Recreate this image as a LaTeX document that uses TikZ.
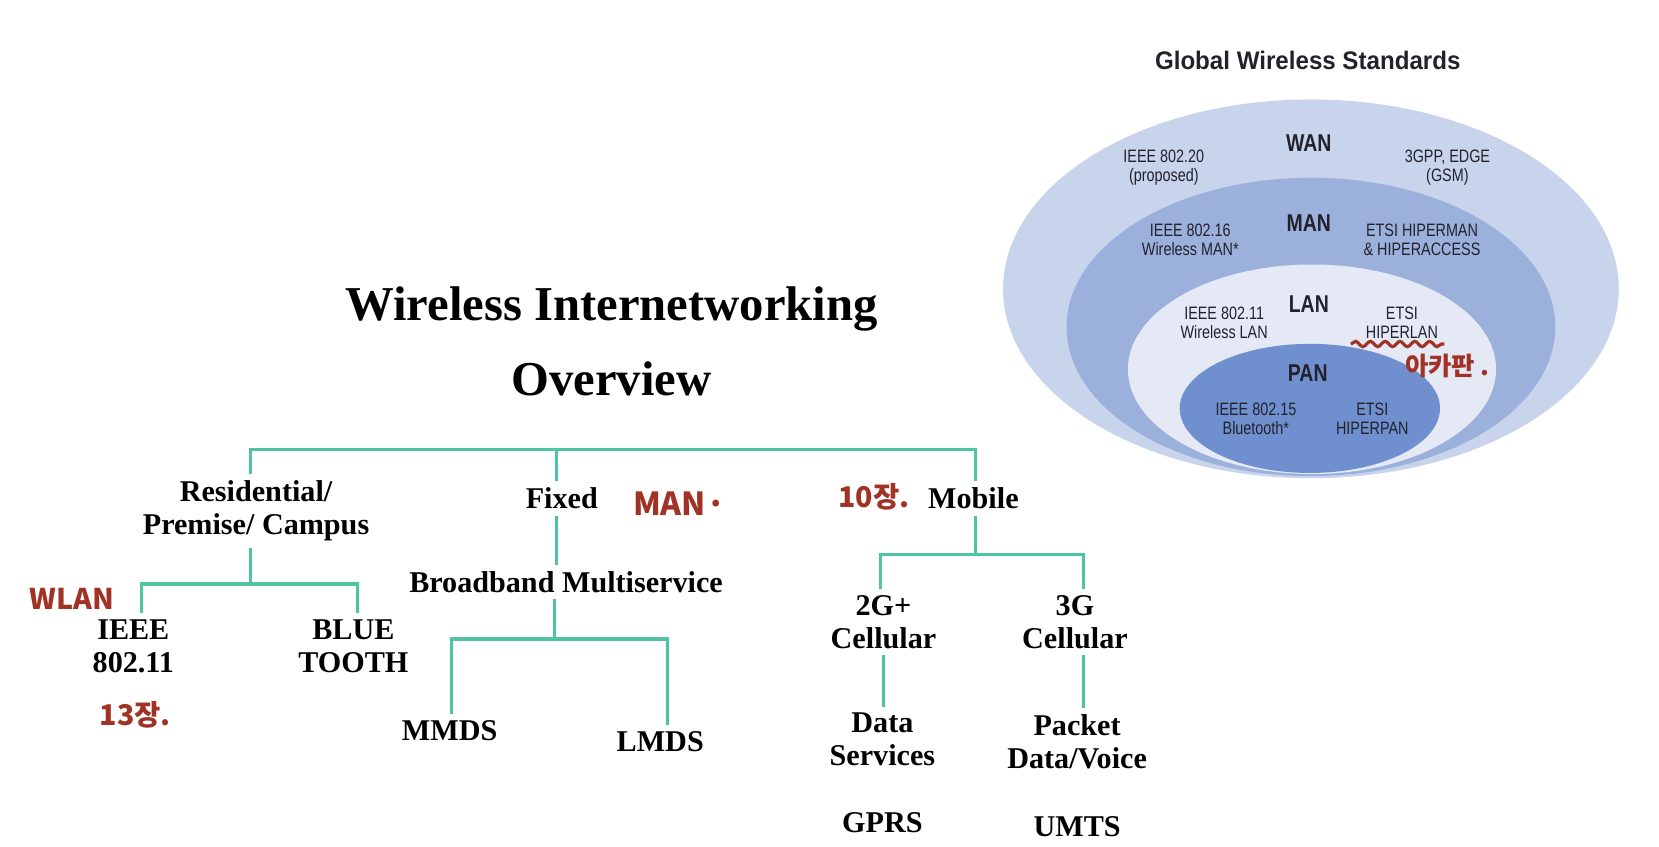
\documentclass[tikz,border=0pt]{standalone}
\usepackage{fontspec}
\setmainfont{Liberation Serif}
\newfontfamily\narrowsf[FakeStretch=0.8]{Liberation Sans}
\newfontfamily\headsf[FakeStretch=0.95]{Liberation Sans}
\newfontfamily\krhand{Noto Sans CJK KR}
\usetikzlibrary{decorations.pathmorphing}
\definecolor{linkgreen}{RGB}{78,196,160}
\definecolor{wanblue}{RGB}{200,211,236}
\definecolor{manblue}{RGB}{156,176,220}
\definecolor{lanblue}{RGB}{229,233,246}
\definecolor{panblue}{RGB}{112,143,206}
\definecolor{penred}{RGB}{160,50,38}
\definecolor{stdtext}{RGB}{34,34,44}

\begin{document}
\begin{tikzpicture}[x=1pt, y=-1pt,
        treebox/.style={align=center, font=\fontsize{28.5}{31}\selectfont\bfseries, inner sep=6pt},
        link/.style={draw=linkgreen, line width=3pt},
        stdlabel/.style={align=center, font=\narrowsf\fontsize{17}{18}\selectfont, text=stdtext, inner sep=2pt},
        netlabel/.style={font=\narrowsf\fontsize{23}{24}\selectfont\bfseries, text=stdtext},
        penmark/.style={font=\krhand\fontsize{27}{28}\selectfont\bfseries, text=penred}
    ]
        \useasboundingbox (0,0) rectangle (1568,800);

        % global wireless standards
        \fill[wanblue] (1239,273) ellipse [x radius=291, y radius=179];
        \fill[manblue] (1239,309) ellipse [x radius=231, y radius=141];
        \fill[lanblue] (1240,349) ellipse [x radius=174, y radius=99];
        \fill[panblue] (1238,386) ellipse [x radius=123, y radius=61];

        \node[font=\headsf\fontsize{24}{26}\selectfont\bfseries, text=stdtext] (gws) at (1236,57) {Global Wireless Standards};
        \node[netlabel] (wan) at (1237,135) {WAN};
        \node[stdlabel] (i80220) at (1100,158) {IEEE 802.20\\(proposed)};
        \node[stdlabel] (gpp) at (1368,158) {3GPP, EDGE\\(GSM)};
        \node[netlabel] (man) at (1237,211) {MAN};
        \node[stdlabel] (i80216) at (1125,227) {IEEE 802.16\\Wireless MAN*};
        \node[stdlabel] (hman) at (1344,227) {ETSI HIPERMAN\\\& HIPERACCESS};
        \node[netlabel] (lan) at (1237,287) {LAN};
        \node[stdlabel] (i80211) at (1157,305) {IEEE 802.11\\Wireless LAN};
        \node[stdlabel] (hlan) at (1325,305) {ETSI\\HIPERLAN};
        \node[netlabel] (pan) at (1236,353) {PAN};
        \node[stdlabel] (i80215) at (1187,396) {IEEE 802.15\\Bluetooth*};
        \node[stdlabel] (hpan) at (1297,396) {ETSI\\HIPERPAN};

        % overview tree
        \node[font=\fontsize{46}{50}\selectfont\bfseries, anchor=base] (title) at (578,303) {Wireless Internetworking};
        \node[font=\fontsize{46}{50}\selectfont\bfseries, anchor=base] (overview) at (578,374) {Overview};

        \node[treebox] (res) at (242,483) {Residential/\\Premise/ Campus};
        \node[treebox] (fix) at (531,471) {Fixed};
        \node[treebox] (mob) at (920,471) {Mobile};
        \node[treebox] (ieee) at (126,611) {IEEE\\802.11};
        \node[treebox] (blue) at (334,611) {BLUE\\TOOTH};
        \node[treebox] (bb) at (535,550) {Broadband Multiservice};
        \node[treebox] (mmds) at (425,691) {MMDS};
        \node[treebox] (lmds) at (624,701) {LMDS};
        \node[treebox] (cell2) at (835,588) {2G+\\Cellular};
        \node[treebox] (cell3) at (1016,588) {3G\\Cellular};
        \node[treebox] (data) at (834,699) {Data\\Services};
        \node[treebox] (pkt) at (1018,701) {Packet\\Data/Voice};
        \node[treebox] (gprs) at (834,778) {GPRS};
        \node[treebox] (umts) at (1018,781) {UMTS};

        \coordinate (topbus) at (526,425);
        \coordinate (resbus) at (237,552);
        \coordinate (bbbus) at (524,604);
        \coordinate (mobbus) at (922,524);

        \draw[link] ([xshift=-5pt]res.north) |- (topbus) -| ([xshift=2pt]mob.north);
        \draw[link] ([xshift=-5pt]fix.north) -- (topbus);
        \draw[link] ([xshift=-5pt]res.south) -- (resbus);
        \draw[link] ([xshift=8pt]ieee.north) |- (resbus) -| ([xshift=4pt]blue.north);
        \draw[link] ([xshift=-5pt]fix.south) -- (bb.north -| topbus);
        \draw[link] (bb.south -| bbbus) -- (bbbus);
        \draw[link] ([xshift=2pt]mmds.north) |- (bbbus) -| ([xshift=7pt]lmds.north);
        \draw[link] ([xshift=2pt]mob.south) -- (mobbus);
        \draw[link] ([xshift=-3pt]cell2.north) |- (mobbus) -| ([xshift=8pt]cell3.north);
        \draw[link] (cell2.south) -- (data.north -| cell2.south);
        \draw[link] ([xshift=8pt]cell3.south) -- ([xshift=6pt]pkt.north);

        % handwritten notes
        \node[penmark, font=\krhand\fontsize{30}{30}\selectfont\bfseries] (noteman) at (642,476) {MAN·};
        \node[penmark] (notewlan) at (68,566) {WLAN};
        \node[penmark] (note13) at (128,676) {13장.};
        \node[penmark] (note10) at (826,470) {10장.};
        \node[penmark, font=\krhand\fontsize{24}{24}\selectfont\bfseries] (notehl) at (1368,346) {아카판 .};
        \draw[penred, line width=3pt, decorate, decoration={snake, amplitude=2.5pt, segment length=14pt}]
            ([xshift=-12pt,yshift=-3pt]hlan.south west) -- ([xshift=4pt,yshift=-3pt]hlan.south east);
    \end{tikzpicture}
\end{document}
